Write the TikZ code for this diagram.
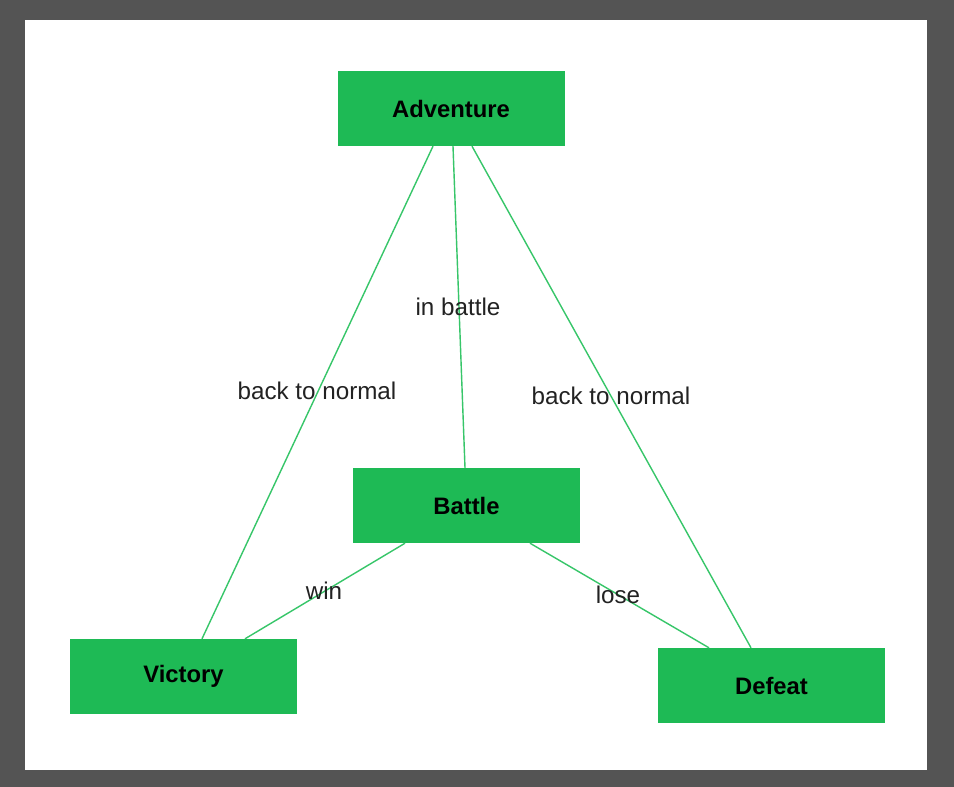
\documentclass[tikz,border=0pt]{standalone}
\usepackage{fontspec}
\setmainfont{Liberation Sans}
\definecolor{boxgreen}{RGB}{30,186,85}
\definecolor{linegreen}{RGB}{55,198,105}
\definecolor{framegray}{RGB}{84,84,84}
\definecolor{labelgray}{RGB}{34,34,34}
\begin{document}
\begin{tikzpicture}[x=1pt,y=-1pt,
  statebox/.style={fill=boxgreen,draw=none,minimum width=227pt,minimum height=75pt,inner sep=0pt,
    font=\fontsize{23.8}{28}\selectfont\bfseries,text=black},
  conn/.style={draw=linegreen,line width=1.4pt},
  elabel/.style={font=\fontsize{24.2}{29}\selectfont,text=labelgray,inner sep=0pt}]
\fill[framegray] (0,0) rectangle (954,787);
\fill[white] (25,20) rectangle (927,770);
\useasboundingbox (0,0) rectangle (954,787);
\node[statebox] (adv) at (451,108.5) {Adventure};
\node[statebox] (bat) at (466.5,505.5) {Battle};
\node[statebox] (vic) at (183.5,676.5) {Victory};
\node[statebox] (def) at (771.5,685.5) {Defeat};
\draw[conn] ([xshift=-18pt]adv.south) -- ([xshift=18.5pt]vic.north);
\draw[conn] ([xshift=2pt]adv.south) -- ([xshift=-1.5pt]bat.north);
\draw[conn] ([xshift=21pt]adv.south) -- ([xshift=-20.5pt]def.north);
\draw[conn] ([xshift=-61.5pt]bat.south) -- ([xshift=61.5pt]vic.north);
\draw[conn] ([xshift=63.5pt]bat.south) -- ([xshift=-62.5pt]def.north);
\node[elabel] (l1) at (458,307) {in battle};
\node[elabel] (l2) at (317,391) {back to normal};
\node[elabel] (l3) at (611,396) {back to normal};
\node[elabel] (l4) at (324,591) {win};
\node[elabel] (l5) at (618,595) {lose};
\end{tikzpicture}
\end{document}
